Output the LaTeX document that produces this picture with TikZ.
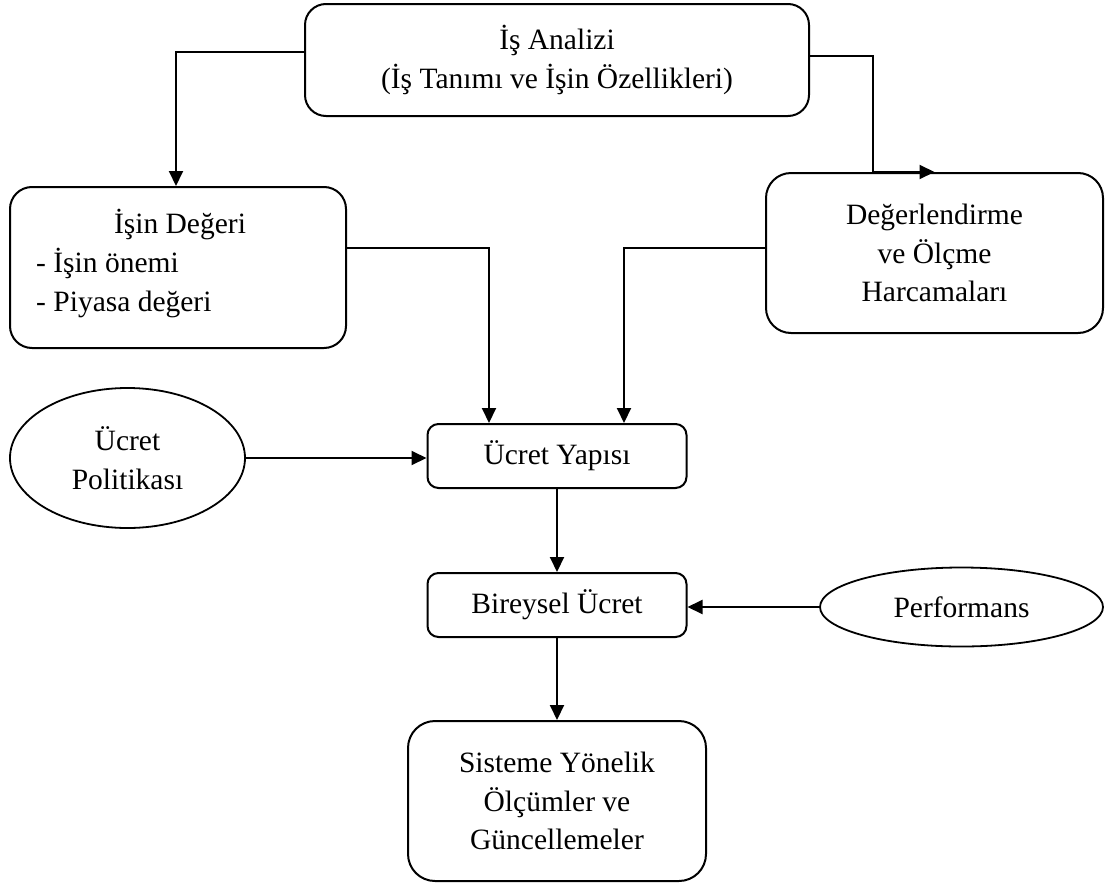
\documentclass[tikz,border=0pt]{standalone}
\usepackage{fontspec}
\setmainfont{Liberation Serif}
\usetikzlibrary{arrows.meta,shapes.geometric}
\begin{document}
\begin{tikzpicture}[x=1pt,y=-1pt,
  every node/.style={font=\fontsize{29.5}{38.5}\selectfont, inner sep=0pt},
  box/.style={draw, line width=2pt, rounded corners=#1, align=center},
  box/.default=22pt,
  oval/.style={draw, line width=1.8pt, ellipse, align=center},
  txt/.style={anchor=base west},
  arr/.style={line width=2pt, -{Triangle[length=15pt,width=14pt]}}
]
\useasboundingbox (0,0) rectangle (1105,886);

% boxes
\node[box=21pt, minimum width=504pt, minimum height=112pt] (job) at (557,60)
  {İş Analizi\\(İş Tanımı ve İşin Özellikleri)};
\node[box=22pt, minimum width=336pt, minimum height=161pt] (worth) at (178,267.5) {};
\node[anchor=base] (worthT) at (180,233) {İşin Değeri};
\node[txt] (worthA) at (36,272) {- İşin önemi};
\node[txt] (worthB) at (36,311) {- Piyasa değeri};
\node[box=25pt, minimum width=337pt, minimum height=160pt] (eval) at (934.5,253)
  {Değerlendirme\\ve Ölçme\\Harcamaları};
\node[box=11pt, minimum width=259pt, minimum height=64pt] (struct) at (557,456) {Ücret Yapısı};
\node[box=11pt, minimum width=259pt, minimum height=64pt] (indiv) at (557,605) {Bireysel Ücret};
\node[box=27pt, minimum width=298pt, minimum height=160pt] (sys) at (557,801)
  {Sisteme Yönelik\\Ölçümler ve\\Güncellemeler};

% ellipses
\node[oval, minimum width=235pt, minimum height=140pt] (policy) at (127.5,458) {Ücret\\Politikası};
\node[oval, minimum width=283pt, minimum height=79pt] (perf) at (961.5,607) {Performans};

% bend points of the connectors
\coordinate (kL) at (176,52);
\coordinate (kR) at (873,56);
\coordinate (inL) at (489,248);
\coordinate (inR) at (624,248);

% connectors
\draw[arr] (job.west |- kL) -| (worth.north -| kL);
\draw[arr] (job.east |- kR) -| (kR |- eval.north) -- (eval.north);
\draw[arr] (worth.east |- inL) -| (inL |- struct.north);
\draw[arr] (eval.west |- inR) -| (inR |- struct.north);
\draw[arr] (policy.east) -- (policy.east -| struct.west);
\draw[arr] (struct.south) -- (indiv.north);
\draw[arr] (perf.west) -- (perf.west -| indiv.east);
\draw[arr] (indiv.south) -- (sys.north);
\end{tikzpicture}
\end{document}
